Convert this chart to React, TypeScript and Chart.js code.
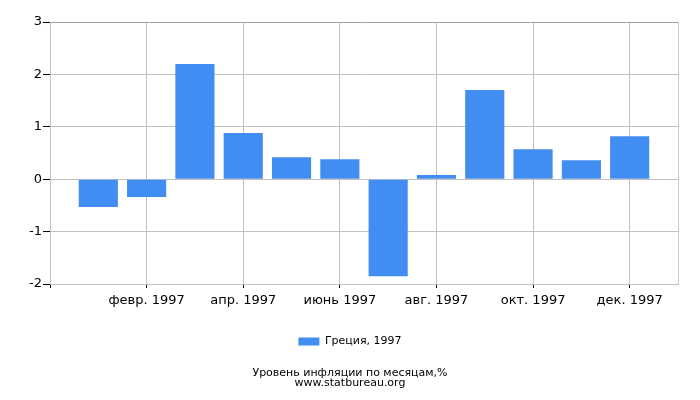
import React, { useEffect, useRef } from "react";
import { Chart, registerables } from "chart.js";

Chart.register(...registerables);

const months = ["янв. 1997", "февр. 1997", "март 1997", "апр. 1997", "май 1997", "июнь 1997", "июль 1997", "авг. 1997", "сент. 1997", "окт. 1997", "нояб. 1997", "дек. 1997"];
const inflation = [-0.53, -0.34, 2.2, 0.88, 0.42, 0.38, -1.85, 0.08, 1.7, 0.57, 0.36, 0.82];
const yTicks = [-2, -1, 0, 1, 2, 3];
const seriesLabel = "Греция, 1997";
const titleLines = ["Уровень инфляции по месяцам,%", "www.statbureau.org"];

const FONT = "'DejaVu Sans', Verdana, sans-serif";

export default function App() {
  const ref = useRef<HTMLCanvasElement | null>(null);

  useEffect(() => {
    document.body.style.margin = "0";
    const labels = ["", ...months, ""];
    const data = [null, ...inflation, null];
    const chart = new Chart(ref.current as HTMLCanvasElement, {
      type: "bar",
      data: {
        labels,
        datasets: [
          {
            label: seriesLabel,
            data,
            backgroundColor: "#418df1",
            borderWidth: 0,
            categoryPercentage: 0.9,
            barPercentage: 0.9,
          },
        ],
      },
      options: {
        animation: false,
        responsive: false,
        maintainAspectRatio: false,
        layout: { padding: { top: 22, right: 0, left: 0, bottom: 2 } },
        plugins: {
          tooltip: { enabled: false },
          legend: {
            position: "bottom",
            labels: {
              boxWidth: 21,
              boxHeight: 8,
              padding: 10,
              color: "#000",
              font: { family: FONT, size: 11 },
            },
          },
          title: {
            display: true,
            position: "bottom",
            text: titleLines,
            color: "#000",
            font: { family: FONT, size: 11, weight: "normal", lineHeight: "10px" },
            padding: { top: 11, bottom: 10 },
          },
        },
        scales: {
          x: {
            type: "category",
            offset: false,
            afterFit: (s: any) => {
              s.height = 42;
            },
            grid: {
              offset: false,
              color: (c: any) => {
                const i = c.index;
                if (i === 13) return "#cccccc";
                if (i > 0 && i % 2 === 0) return "#c0c0c0";
                return "rgba(0,0,0,0)";
              },
              tickColor: (c: any) => {
                const i = c.index;
                if (i % 2 === 0 && i < 13) return "#000";
                return "rgba(0,0,0,0)";
              },
              tickLength: 4,
            },
            border: { color: "#c0c0c0" },
            ticks: {
              autoSkip: false,
              maxRotation: 0,
              padding: 5,
              color: "#000",
              font: { family: FONT, size: 13 },
              callback: (_v: any, i: number) => (i > 0 && i < 13 && i % 2 === 0 ? labels[i] : ""),
            },
          },
          y: {
            min: -2,
            max: 3,
            afterFit: (s: any) => {
              s.width = 50;
            },
            afterBuildTicks: (s: any) => {
              s.ticks = yTicks.map((v) => ({ value: v }));
            },
            grid: {
              color: (c: any) => (c.tick && c.tick.value === 3 ? "#a0a0a0" : "#c0c0c0"),
              tickColor: "#000",
              tickLength: 7,
            },
            border: { color: "#c0c0c0" },
            ticks: {
              padding: 1,
              color: "#000",
              font: { family: FONT, size: 13 },
            },
          },
          yRight: {
            position: "right",
            display: true,
            min: -2,
            max: 3,
            afterFit: (s: any) => {
              s.width = 22;
            },
            grid: { display: false, drawOnChartArea: false },
            border: { display: false },
            ticks: { display: false },
          },
        },
      },
    });
    return () => chart.destroy();
  }, []);

  return (
    <div style={{ width: 700, height: 400 }}>
      <canvas ref={ref} width={700} height={400} style={{ display: "block" }} />
    </div>
  );
}
